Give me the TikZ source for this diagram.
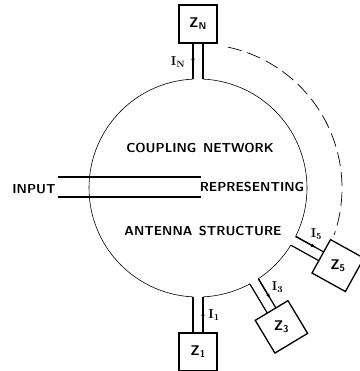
\documentclass[tikz,border=0pt]{standalone}
\usepackage{tikz}
\usetikzlibrary{calc,shapes.geometric,arrows.meta}

\begin{document}
\begin{tikzpicture}[x=1pt,y=1pt,
  lbl/.style={font=\sffamily\bfseries\fontsize{13}{15}\selectfont, inner sep=1pt},
  zbox/.style={regular polygon, regular polygon sides=4, draw, line width=1.3pt,
    minimum size=54pt, inner sep=0pt, font=\sffamily\bfseries\fontsize{14}{16}\selectfont},
  cur/.style={font=\bfseries\fontsize{13}{15}\selectfont, inner sep=0pt},
  wire/.style={line width=1.2pt},
  flow/.style={-{Latex[length=6pt,width=3.5pt]}, line width=1.2pt}]
  \useasboundingbox (0,0) rectangle (359,371);
  \coordinate (c) at (198,183);
  % ring, broken where the ports leave it
  \foreach \a/\b in {92.6/267.4, -87.4/-61.6, -56.4/-31.6, -26.4/87.4}
    \draw[line width=0.6pt] (c) ++(\a:109) arc[start angle=\a, end angle=\b, radius=109];
  \draw[line width=0.7pt, dash pattern=on 14pt off 6pt] (c) ++(78:144) arc[start angle=78, end angle=-19, radius=144];

  \node (zn) [zbox, shape border rotate=0] at ($(c)+(90:164)$) {Z\textsubscript{N}};
  \node (z1) [zbox, shape border rotate=0] at ($(c)+(-90:164)$) {Z\textsubscript{1}};
  \node (z3) [zbox, shape border rotate=-59] at ($(c)+(-59:162)$) {Z\textsubscript{3}};
  \node (z5) [zbox, shape border rotate=-29] at ($(c)+(-29:160)$) {Z\textsubscript{5}};

  % port pairs
  \foreach \a/\z in {90/zn, -90/z1, -59/z3, -29/z5}
    \draw[wire] ($(c)+(\a:109)+(\a+90:5)$) -- ($(\z.center)+(\a+180:19)+(\a+90:5)$)
                ($(c)+(\a:109)+(\a-90:5)$) -- ($(\z.center)+(\a+180:19)+(\a-90:5)$);

  % currents
  \draw[flow] ($(c)+(90:109)+(180:5)$) -- ($(c)+(90:134)+(180:5)$);
  \draw[flow] ($(c)+(-90:143)+(0:5)$) -- ($(c)+(-90:122)+(0:5)$);
  \draw[flow] ($(c)+(-59:109)+(31:5)$) -- ($(c)+(-59:133)+(31:5)$);
  \draw[flow] ($(c)+(-29:109)+(61:5)$) -- ($(c)+(-29:133)+(61:5)$);
  \node[cur] (in) at ($(c)+(90:126)+(180:20)$) {I\textsubscript{N}};
  \node[cur] (i1) at ($(c)+(-90:127)+(0:16)$) {I\textsubscript{1}};
  \node[cur] (i3) at ($(c)+(-59:126)+(31:17)$) {I\textsubscript{3}};
  \node[cur] (i5) at ($(c)+(-29:126)+(61:17)$) {I\textsubscript{5}};

  \node[lbl] (cpl) at (200,223) {COUPLING\enspace NETWORK};
  \node[lbl] (rep) at (252,184) {REPRESENTING};
  \node[lbl] (ant) at (203,140) {ANTENNA\enspace STRUCTURE};
  \node[lbl] (input) at (34,182) {INPUT};
  \draw[wire] ($(input.east)+(1,12)$) -- ++(143,0)
              ($(input.east)+(1,-8)$) -- ++(143,0);
\end{tikzpicture}
\end{document}
